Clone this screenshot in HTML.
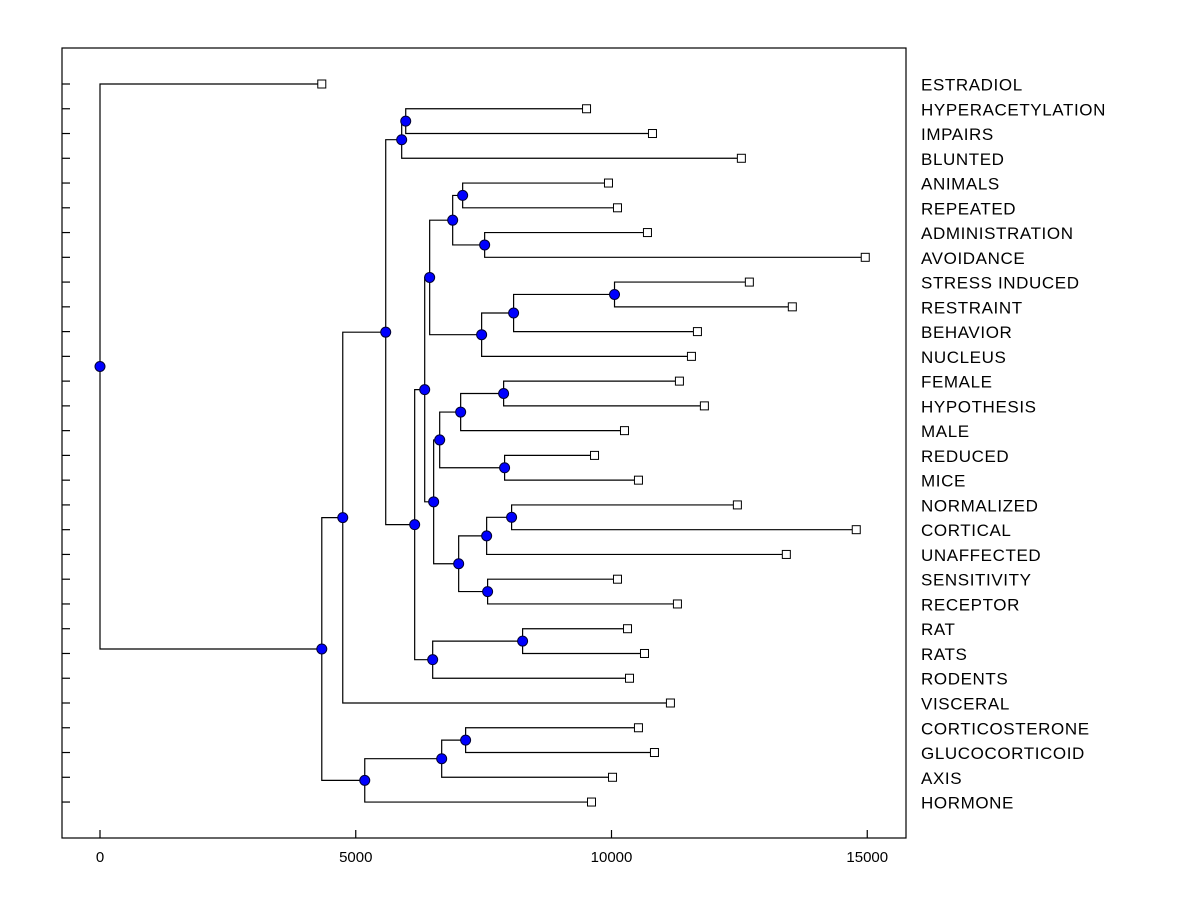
<!DOCTYPE html>
<html><head><meta charset="utf-8"><style>
html,body{margin:0;padding:0;background:#fff;}
svg{display:block;font-family:"Liberation Sans",Arial,sans-serif;}
</style></head><body>
<svg id="chart" width="1200" height="900">
<rect x="62" y="48" width="844" height="790" fill="none" stroke="#000" stroke-width="1.2"/>
<g id="links"></g><g id="marks"></g><g id="labels"></g><g id="axis"></g>
</svg>
<script>
const leafLabels = ["ESTRADIOL","HYPERACETYLATION","IMPAIRS","BLUNTED","ANIMALS","REPEATED","ADMINISTRATION","AVOIDANCE","STRESS INDUCED","RESTRAINT","BEHAVIOR","NUCLEUS","FEMALE","HYPOTHESIS","MALE","REDUCED","MICE","NORMALIZED","CORTICAL","UNAFFECTED","SENSITIVITY","RECEPTOR","RAT","RATS","RODENTS","VISCERAL","CORTICOSTERONE","GLUCOCORTICOID","AXIS","HORMONE"];
const leafValues = [4336,9512,10801,12539,9941,10117,10703,14961,12695,13535,11680,11563,11328,11816,10254,9668,10527,12461,14785,13418,10117,11289,10313,10645,10352,11152,10527,10840,10020,9609];
const mergeLeft  = [1,30,4,6,32,8,35,36,34,12,39,15,40,17,43,20,44,42,38,22,49,48,31,52,26,54,55,53,0];
const mergeRight = [2,3,5,7,33,9,10,11,37,13,14,16,41,18,19,21,45,46,47,23,24,50,51,25,27,28,29,56,57];
const mergeHeight= [5977,5898,7090,7520,6895,10059,8086,7461,6445,7891,7051,7910,6641,8047,7559,7578,7012,6523,6348,8262,6504,6152,5586,4746,7148,6680,5176,4336,0];
const xTicks = [0,5000,10000,15000];

const NS="http://www.w3.org/2000/svg";
const xs = v => 100 + v*0.05115;
const rowY = i => 84 + i*24.76;
function mk(tag, attrs, parent){const e=document.createElementNS(NS,tag);for(const k in attrs)e.setAttribute(k,attrs[k]);parent.appendChild(e);return e;}
const gL=document.getElementById('links'), gM=document.getElementById('marks'), gT=document.getElementById('labels'), gA=document.getElementById('axis');
const n=leafLabels.length;
const nodeX=[], nodeY=[];
for(let i=0;i<n;i++){nodeX.push(xs(leafValues[i]));nodeY.push(rowY(i));}
for(let k=0;k<mergeHeight.length;k++){
  const a=mergeLeft[k], b=mergeRight[k], x=xs(mergeHeight[k]);
  const y=(nodeY[a]+nodeY[b])/2;
  nodeX.push(x);nodeY.push(y);
  const p=mk('path',{d:`M${nodeX[a]},${nodeY[a]}H${x}V${nodeY[b]}H${nodeX[b]}`,fill:'none',stroke:'#000','stroke-width':1.2},gL);
  
  
}
for(let k=0;k<mergeHeight.length;k++){
  const c=mk('circle',{cx:nodeX[n+k],cy:nodeY[n+k],r:5,fill:'#0000ff',stroke:'#000033','stroke-width':1},gM);
  
  
}
for(let i=0;i<n;i++){
  const r=mk('rect',{x:nodeX[i]-4,y:nodeY[i]-4,width:8,height:8,fill:'#fff',stroke:'#000','stroke-width':1},gM);
  
  
  const t=mk('text',{x:921,y:nodeY[i]+6.5,'font-size':17,'letter-spacing':0.6,fill:'#000'},gT);
  t.textContent=leafLabels[i];
  
  
  const tk=mk('line',{x1:62,x2:70,y1:nodeY[i],y2:nodeY[i],stroke:'#000','stroke-width':1.2},gA);
  
  
}
for(const v of xTicks){
  const x=xs(v);
  const l=mk('line',{x1:x,x2:x,y1:830,y2:838,stroke:'#000','stroke-width':1.2},gA);
  
  
  const t=mk('text',{x:x,y:862,'font-size':15,'text-anchor':'middle',fill:'#000'},gA);
  t.textContent=String(v);
  
  
}
</script>
</body></html>
